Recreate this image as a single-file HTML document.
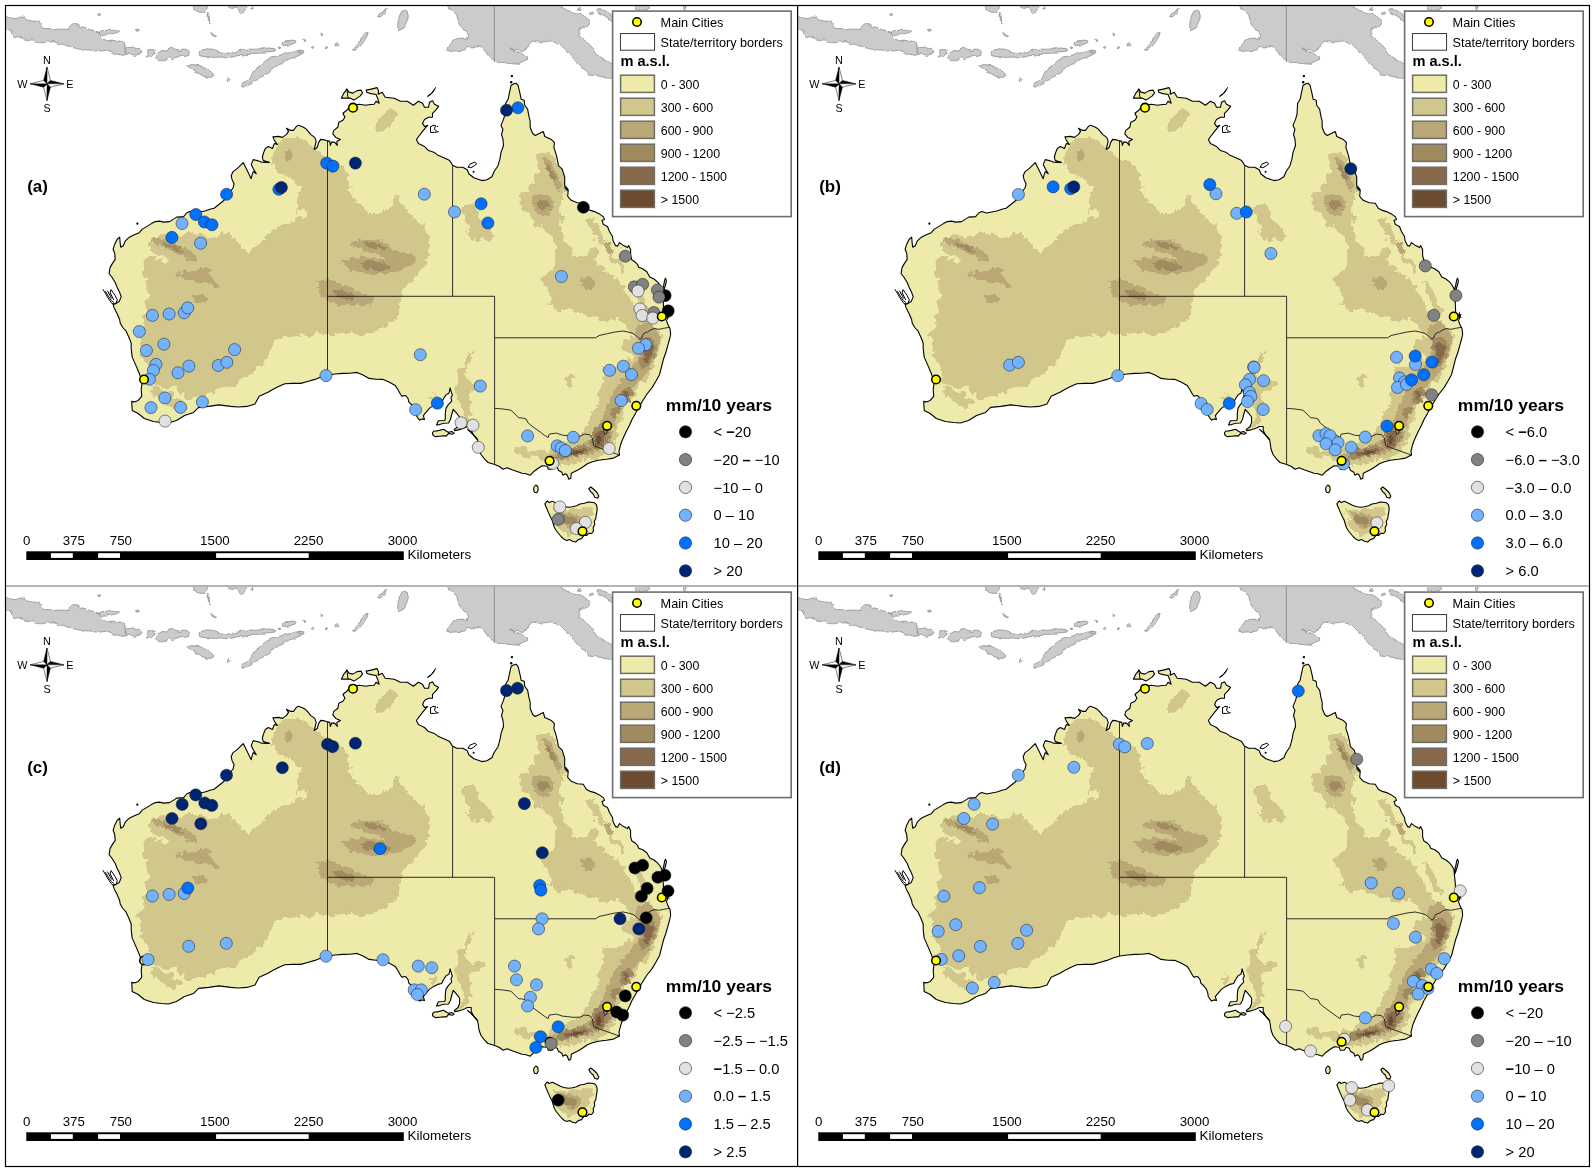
<!DOCTYPE html>
<html><head><meta charset="utf-8"><title>Trends</title>
<style>html,body{margin:0;padding:0;background:#fff}svg{display:block}text{font-family:"Liberation Sans",sans-serif;fill:#000;opacity:0.999}</style></head><body>
<svg width="1594" height="1172" viewBox="0 0 1594 1172">
<defs>
<clipPath id="pc"><rect x="6" y="6" width="791" height="579.5"/></clipPath>
<clipPath id="lc"><path d="M109.1 273.5 L110.1 267.4 L113.1 262.4 L115.2 259.4 L114.7 253.3 L113.1 249.3 L114.7 244.2 L117.2 239.2 L119.7 237.2 L120.2 243.2 L120.7 247.3 L123.2 245.8 L125.2 241.2 L129.3 237.2 L134.3 234.7 L139.3 232.7 L142.3 229.1 L147.4 226.1 L151.4 223.6 L155.4 221.6 L159.5 221.1 L163.5 222.1 L169.5 221.6 L173.6 219.1 L176.6 217.1 L183.6 216.6 L186.7 213 L189.7 211.5 L194.7 213 L199.7 212 L204.8 211 L210.8 209 L214.1 208.3 L223.5 200.8 L229 193.5 L233.1 187.8 L234.1 183.7 L232.1 179.7 L231.1 175.7 L233.1 171.6 L237.1 168.6 L240.2 165.6 L243.2 162.6 L247.2 170.6 L251.2 178.7 L252.2 174.7 L253.2 171.6 L256.3 173.7 L253.2 168.6 L251.2 164.6 L253.2 159.6 L257.3 160.6 L261.3 162.1 L269.4 162.4 L263.3 160.6 L262.3 157.5 L263.3 153.5 L265.3 148.5 L268.4 146.5 L272.4 148.5 L274.4 143.5 L277.4 144.5 L274.4 140.4 L272.9 136.9 L278.4 136.4 L282.5 137.4 L286.5 134.4 L288.5 131.4 L286.5 128.3 L290.5 130.4 L293.5 130.4 L296.5 126.3 L298.6 125.3 L303.6 127.3 L306.6 129.4 L310.6 134.4 L314.7 137.4 L316.2 141.4 L314.2 149.5 L317.2 147.5 L318.7 142.4 L320.7 139.4 L324.7 139.9 L327.8 140.9 L329.8 141.4 L330.3 145.5 L331.8 141.9 L334.8 142.4 L337.3 145.5 L336.8 141.4 L340.4 139.4 L335.8 137.4 L332.8 133.9 L333.8 130.4 L337.8 127.3 L338.8 122.3 L342.9 120.3 L344.9 117.3 L342.9 113.2 L346.9 110.2 L348.9 107.2 L354 105.2 L359 104.2 L366 105.2 L368.1 104.8 L374.1 104.2 L376.1 101.2 L379.1 103.2 L377.6 98.2 L376 94.5 L371 93.6 L367 92.5 L366.1 90.1 L371.1 89.1 L377.1 87.6 L378.6 91 L378.1 94.2 L382.2 92.2 L385.2 97.2 L394.3 98.2 L400.3 101.2 L407.3 101.2 L413.4 105.3 L418.4 101.2 L422.5 103.2 L424.5 107.3 L428.5 107.3 L429.5 102.2 L432.5 100.7 L434.5 104.2 L438.6 106.3 L435.5 110.3 L432.5 113.3 L432.5 117.3 L428.5 117.3 L424.5 119.4 L422.5 123.4 L424.5 126.4 L427.5 125.4 L422.5 131.4 L416.4 139.5 L418.4 143.5 L424.5 146.5 L428.5 150.6 L434.5 152.6 L438.6 155.6 L445.6 158.6 L449.6 160.6 L452.7 165.2 L456.7 167.2 L462.7 167.2 L467.3 169.7 L468.8 173.7 L473.8 177.8 L481.9 180.6 L486.9 179.8 L491.9 176.8 L494 171.7 L498 165.7 L500 158.6 L501 152.6 L503.5 145.5 L503 139.5 L501.5 134.5 L503 129.4 L501 125.4 L503.5 119.4 L505 114.3 L505.6 103.3 L508.1 99.3 L509.6 92.2 L511.1 85.2 L514.1 83.7 L516.1 83.2 L518.1 85.7 L519.7 92.2 L521.2 99.3 L524.2 100.3 L524.7 105.3 L527.7 109.4 L528.7 115.4 L530.2 121.4 L530.2 127.5 L532.7 133.5 L535.3 135.5 L540.3 133 L543.3 131.5 L544.8 136.5 L551.4 139.6 L554.4 142.6 L553.9 147.6 L555.9 153.7 L557.4 159.7 L558.4 165.7 L562.2 169.1 L564.7 177.1 L564.7 185.2 L565.2 188.2 L568.2 190.2 L567.7 196.3 L571.2 200.3 L577.3 202.8 L583.3 203.3 L586.3 208.3 L590.4 210.4 L595.4 211.9 L599.4 213.9 L603.5 216.9 L604.5 219.4 L601.9 220.4 L603.5 224.5 L607.5 226.5 L609.5 231.5 L612.5 236.5 L613 240.6 L615.5 245.6 L617.6 246.1 L619.6 242.6 L623.6 245.6 L627.6 247.6 L628.6 245.6 L630.6 249.6 L630.6 255.7 L631.7 259.7 L634.7 261.7 L637.7 264.7 L638.7 267.3 L642.7 268.8 L646.8 271.8 L649.8 277 L654 279 L657.7 282.2 L660 285 L662 288.5 L662.4 293.5 L663.3 302 L663.6 311.6 L665 316 L666.2 319.9 L668.1 325.1 L670 328.5 L670.7 334 L669.6 339 L668.1 344.3 L666 352 L663.4 359.3 L661.5 367 L659.6 374.4 L656 381 L652.1 387.6 L647 394 L642.7 400.8 L639 407 L635.2 413.9 L632 419.5 L629.5 425.2 L626.5 431 L623.9 436.5 L621.5 442 L620.5 445.1 L619 451.1 L619.5 455.1 L613.5 458.1 L606.4 459.2 L598.4 460.2 L592.4 461.7 L587.4 463.7 L582.4 467.2 L578.3 469.7 L574.3 471.7 L571.3 473.2 L570.8 478.2 L568.8 479.2 L567.3 475.2 L565.3 473.7 L562.8 475.2 L561.8 472.2 L558.3 470.2 L557.3 467.2 L554.2 466.2 L552.2 469.2 L548.2 469.2 L547.2 466.2 L542.2 465.7 L538.2 468.2 L534.2 471.2 L530.2 475.2 L526.1 473.7 L522.1 473.2 L512.1 469.7 L507.1 467.7 L503.1 469.2 L499 466.2 L494 464.2 L488 462.5 L484.6 459.1 L481 454.5 L479 449 L478.2 443 L477.5 439.7 L473.8 435.3 L471.2 430.6 L471.2 426.5 L467.4 426.5 L464.9 427.7 L462.4 428.7 L458.6 429.9 L454.8 430.6 L454.2 429.6 L458 426.5 L459.6 422.7 L459.6 417 L456.1 412.6 L453.2 409.4 L451.7 414.5 L450.4 419.5 L448.5 423 L443.5 423.3 L439.7 424.6 L436.5 424.9 L438.4 420.8 L444.7 420.5 L445.3 418.9 L445.3 413.2 L446 408.1 L448.5 404.4 L451.7 401.2 L451 397.4 L452.3 394.9 L451 391.1 L450.1 387.9 L449.1 393 L446 394.9 L443.5 398.7 L441.6 402.5 L437.8 403.4 L433.4 405.6 L429.6 408.1 L425.8 412.6 L423.3 415.7 L424.5 419.5 L422 418.9 L419.5 420.1 L416.3 415.7 L415.7 411.9 L414.4 408.1 L411.9 405 L408.7 401.8 L408.1 398.7 L405.6 395.5 L401.8 396.1 L400.5 394.3 L398 389.8 L395.2 385.4 L389 382 L383.1 379.4 L376 379.2 L369.1 378.4 L363 375 L357 372.4 L350 373.2 L343 373.4 L335 374 L327.9 375 L321 377 L314.9 379.4 L307.5 381.5 L300.8 383.4 L292.5 383.4 L284.8 383.8 L278.5 386.5 L272.7 389.5 L268 392.3 L259.1 396.3 L255 403.9 L247 406.4 L238 407 L230.9 406.4 L218.8 404.9 L208.7 406.4 L198.6 407.4 L193.6 412.4 L184.5 415.5 L176.5 420.5 L168.4 423 L161.4 422.5 L153.3 421.5 L144.3 418.5 L138.2 413.5 L132.2 410.4 L131.7 401.4 L134.2 401.9 L138.2 400.4 L141.7 396.3 L141.2 389.3 L142.2 382.2 L139.2 373.2 L136.2 366.1 L132.2 357.1 L131.2 349 L131.2 343.3 L128.8 337 L126.1 331.2 L122.8 327.5 L120.2 323 L119.7 319.8 L117.2 313.7 L114.1 307.7 L113.1 304.7 L119.2 301.6 L121.2 296.6 L119.7 292.6 L117.2 287.5 L115.2 282.5 L112.1 277.5ZM341.4 98.1 L343.9 93.1 L346.9 89.1 L348.9 92.1 L352.9 93.1 L357 90.6 L361 90.1 L362.5 93.1 L360 96.1 L357 98.1 L353.9 100.1 L349.9 98.1 L345.9 98.1ZM432.4 432.8 L434 431.2 L438.4 430.6 L443.5 429.3 L446.6 431.2 L448.5 432.4 L451.7 431.5 L454.2 433.1 L452.3 434.3 L448.5 433.4 L446.6 435.9 L443.5 435.9 L439.7 436.2 L435.2 436.6 L432.7 434.7ZM534 487 L535.8 485 L537.8 486.5 L538.2 490 L536.8 492.8 L534.4 492.2 L533.6 489.5ZM588.8 488.6 L590.8 487 L594 489.5 L597 492.5 L598.8 496 L597.6 498.2 L594.6 497.2 L593.2 494 L590.6 491.6ZM665.6 278.2 L666.4 281 L665.2 286 L663.6 291 L662.6 293.4 L662.8 289 L664 284 L664.6 280ZM544.8 503.8 L547.3 500.8 L549 502.5 L552.4 501.3 L556 503 L560.4 505.3 L564 506.5 L568.5 507.3 L572.5 506.8 L576.6 505.8 L580 504 L584.6 503.3 L588 502 L591.7 502.3 L594.5 502.8 L596.2 504.3 L597 507 L597.2 509.4 L596.2 515.4 L595.8 518.5 L594.2 521.4 L594.8 524.5 L593.2 527.5 L593.5 531 L591.7 533.5 L589 533.2 L586.6 535.5 L584 535.2 L581.6 538.6 L578.5 539.5 L575.5 542.1 L572 541 L569.5 539.6 L567 540.4 L564.5 539.6 L561.5 537 L559.4 534.5 L556.5 531 L554.4 527.5 L553 523 L551.9 519.4 L550 516 L548.4 512.4 L546.5 508Z"/></clipPath>
<filter id="rg" x="0" y="0" width="100%" height="100%" filterUnits="objectBoundingBox" color-interpolation-filters="sRGB"><feTurbulence type="fractalNoise" baseFrequency="0.13" numOctaves="3" seed="7" result="n"/><feDisplacementMap in="SourceGraphic" in2="n" scale="11" xChannelSelector="R" yChannelSelector="G"/><feComponentTransfer><feFuncA type="discrete" tableValues="0 1"/></feComponentTransfer></filter>
<filter id="rg2" x="0" y="0" width="100%" height="100%" color-interpolation-filters="sRGB"><feTurbulence type="fractalNoise" baseFrequency="0.22" numOctaves="3" seed="3" result="n"/><feDisplacementMap in="SourceGraphic" in2="n" scale="7" xChannelSelector="R" yChannelSelector="G"/><feComponentTransfer><feFuncA type="discrete" tableValues="0 1"/></feComponentTransfer></filter>
<filter id="wb" x="0" y="0" width="100%" height="100%" color-interpolation-filters="sRGB"><feTurbulence type="fractalNoise" baseFrequency="0.16" numOctaves="2" seed="11" result="n"/><feDisplacementMap in="SourceGraphic" in2="n" scale="3.2" xChannelSelector="R" yChannelSelector="G"/></filter>
<g id="isl" fill="#cbcbcb" stroke="#767676" stroke-width="0.6" stroke-linejoin="round" filter="url(#wb)"><rect x="0" y="0" width="700" height="100" fill="none" stroke="none"/>
<path d="M4 16 L6.5 16.3 L11 18 L16.3 18.6 L20 17 L23.8 17.2 L27 20 L31.4 21 L35 21 L38.9 21.9 L41 26 L42.6 28.5 L48 28.5 L53.9 29.5 L61 29 L69 29.5 L71 25 L73.7 23.4 L77 24 L80.3 26.6 L85 27.5 L89.7 29.5 L94 30.5 L99.1 32.3 L99.5 34 L101 36.1 L103 38.5 L106.6 40.8 L111 40 L116 40.8 L120 41 L124.5 42.6 L125 48 L125.5 54.9 L122 55.5 L117.9 54.3 L112 52.5 L106.6 50.2 L101 51 L95.3 51.1 L90 50 L84.1 49.8 L77 48.5 L70.9 47.3 L65 45 L59.6 43.6 L54 42 L48.3 41.7 L42 42.8 L37 42.6 L30 40 L23.8 38.9 L19 37 L14.4 37 L12.5 34 L12.5 31.4 L9 30.5 L6.5 29.5 L4 29.5Z"/>
<path d="M99.5 31.8 L102 30.6 L108 30.2 L114 30.2 L119.6 31 L117 32.8 L112 33.8 L107 35 L102 35.2 L99.6 34Z"/>
<path d="M125.8 47.8 L129 47.5 L133 47 L136 48 L139.5 49.5 L142.2 51.5 L140 54 L137 54.5 L135 56.8 L132.5 55 L129 53 L127 54.8 L125.8 52Z"/>
<path d="M148 50 L151.5 49.2 L155.4 50.4 L154.6 54 L152 57 L149 57.6 L146.4 57 L147.6 53.5Z"/>
<path d="M156.8 54 L159 51.5 L163 50.5 L167 51 L169 48 L172 47.4 L176 49.5 L180 50.5 L183 49 L187 49.5 L189.4 51.5 L188.6 55.5 L185 56.5 L181 55.5 L177 57.2 L172 58.5 L169 56.5 L166 59.5 L162 61 L158.5 60.5 L156.6 57.5Z"/>
<path d="M199 53 L202 50 L207 48.8 L213 49.2 L218 51 L223 52.5 L228 53 L233 52 L238 51 L244 49.5 L250 49 L256 49.2 L262 48.5 L268 48 L274 48.5 L276 50 L272 51.5 L266 52 L260 53 L254 53.5 L248 54.5 L243 56 L238 55.5 L233 57 L227 57.8 L221 57 L215 57.5 L209 57 L203 56.5 L199.5 55.5Z"/>
<path d="M187.8 66.5 L191 64.6 L196 64.8 L201 66 L205 68 L209 70.5 L212.5 73 L213.8 75.8 L211 77.4 L206 77 L202 75.5 L198 72.5 L194 70 L190 69Z"/>
<path d="M241.5 85.5 L244 82.5 L248 80 L251 76.5 L254 72 L257 68 L261 64.5 L265 61.5 L270 58.5 L276 56 L282 54.5 L288 53 L294 51.5 L300 50.4 L304 50.8 L303.5 53 L299 55.5 L294 57.5 L289 59 L285 61.5 L281 64 L277 65 L273 68 L270 72 L266 75 L261 77 L257 79.5 L253 82.5 L249 85 L245 86.8 L242 87Z"/>
<path d="M282.8 44.2 L285 42 L289 40.6 L293 40 L296.5 40.6 L295 43 L291 44.5 L287 45.4 L284 45.6Z"/>
<path d="M278 47.6 L280 46.8 L281 48 L279 48.8Z"/>
<path d="M226.6 79.6 L228.6 78.6 L229.6 80.4 L227.4 81.6Z"/>
<path d="M98.6 14 L100.2 13.6 L100.6 15 L99 15.4Z"/>
<path d="M135.6 29.6 L138 29 L139.6 30.2 L137.6 31.2 L136 31Z"/>
<path d="M193.2 4 L194 9 L197 11.5 L201 12.5 L204.5 11 L207 8.5 L208 4Z"/>
<path d="M207.6 12 L209 15 L209.6 20 L209 24 L208.2 20 L208.2 15Z"/>
<path d="M227 4 L229 7.5 L232 8.5 L235 7 L238 9 L240.5 12.5 L243 13 L245 9.5 L247.6 7 L247 4Z"/>
<path d="M210.5 32.4 L212.5 33.6 L215 35.6 L216.6 36.4 L214 36.6 L211.6 34.8Z"/>
<path d="M251.6 7 L252.6 6.4 L253 8 L252 8.4Z"/>
<path d="M353.4 49.6 L356 46.5 L358.5 44 L360 40 L362.5 36.5 L365.5 34 L368.2 33.4 L367 36.5 L365 39.5 L363 43 L360.5 46 L357.5 48.5 L354.5 50.4Z"/>
<path d="M397.6 28 L398 22 L399.4 16 L401.6 11.6 L404.6 10 L407.4 11.5 L408.4 16 L407 21 L405 25.5 L402 29 L399.4 30.4Z"/>
<path d="M378.4 15.5 L380 13 L382.4 12.4 L384.4 9.6 L386.2 8.2 L385.6 11 L383.6 14 L381 16.6 L379 17Z"/>
<path d="M303.6 40.2 L305.2 39.4 L306 40.8 L304.4 41.6Z"/>
<path d="M311 46.8 L313 46.2 L314 47.6 L312 48.4Z"/>
<path d="M325.4 48 L327 47.4 L327.6 48.8 L326 49.4Z"/>
<path d="M335.6 43.6 L337.4 42.6 L339.4 43.8 L338.4 45.8 L336.2 45.8Z"/>
<path d="M320.6 34.4 L322.4 33.8 L322.8 35 L321 35.4Z"/>
<path d="M298 50.6 L300.4 50 L301.4 52.4 L299 53Z"/>
<path d="M445.6 4 L449 8 L453 11 L456.6 15 L458 20 L460.6 27.1 L464 30 L468.6 35.1 L467 40 L463 38 L457 38.5 L452 42 L448.5 47 L447.6 51.6 L453 51 L459 50.6 L464.6 50.2 L467 46.5 L472 46.8 L477 47 L480.7 46.2 L484 50 L488.7 56.2 L492 59.5 L495.7 62.2 L503 62.6 L510 63.6 L516.8 64.2 L522 62 L526.9 59.2 L526 56 L522.8 53.2 L517 51.5 L510.8 49.2 L518 49.6 L523 51.5 L526.9 48.2 L529 44 L532.9 41.1 L540 42.5 L548.9 41.1 L555 42.5 L561 45.2 L565 49 L569 53.2 L573 58 L577 63.2 L583 69 L584 68.5 L588.9 75 L595 75.6 L602 76.7 L607 78 L612.2 78.3 L622 79 L622 64 L611.8 63.6 L605.3 60.4 L597.1 55.5 L593.8 48.9 L587.3 42.4 L579.2 35.9 L579.2 29.4 L588.9 26.1 L590.6 21.2 L582.4 14.7 L572.6 13 L566 9 L561.2 6.5 L560 4Z"/>
<path d="M634.6 4 L634.6 8.5 L638 10.1 L646 10.1 L649.3 8.6 L649.3 4Z"/>
<path d="M683.6 4 L683.6 9.2 L684.8 9.8 L686 9.2 L686 4Z"/>
<path d="M578 8.6 L580 7.4 L581.6 8.6 L580.6 10.6 L578.6 10.4Z"/>
<path d="M589.6 12 L592 11.4 L593.6 13.4 L591.4 14.6 L589.8 13.8Z"/>
<path d="M597 10 L601 9.4 L606 11 L610 14 L613 18 L613 21 L609 19 L605 16 L600 13.6 L597.4 12Z"/>
</g>
<path id="pngb" d="M494.3 6V62" fill="none" stroke="#777" stroke-width="0.7"/>
<g id="aus">
<path d="M109.1 273.5 L110.1 267.4 L113.1 262.4 L115.2 259.4 L114.7 253.3 L113.1 249.3 L114.7 244.2 L117.2 239.2 L119.7 237.2 L120.2 243.2 L120.7 247.3 L123.2 245.8 L125.2 241.2 L129.3 237.2 L134.3 234.7 L139.3 232.7 L142.3 229.1 L147.4 226.1 L151.4 223.6 L155.4 221.6 L159.5 221.1 L163.5 222.1 L169.5 221.6 L173.6 219.1 L176.6 217.1 L183.6 216.6 L186.7 213 L189.7 211.5 L194.7 213 L199.7 212 L204.8 211 L210.8 209 L214.1 208.3 L223.5 200.8 L229 193.5 L233.1 187.8 L234.1 183.7 L232.1 179.7 L231.1 175.7 L233.1 171.6 L237.1 168.6 L240.2 165.6 L243.2 162.6 L247.2 170.6 L251.2 178.7 L252.2 174.7 L253.2 171.6 L256.3 173.7 L253.2 168.6 L251.2 164.6 L253.2 159.6 L257.3 160.6 L261.3 162.1 L269.4 162.4 L263.3 160.6 L262.3 157.5 L263.3 153.5 L265.3 148.5 L268.4 146.5 L272.4 148.5 L274.4 143.5 L277.4 144.5 L274.4 140.4 L272.9 136.9 L278.4 136.4 L282.5 137.4 L286.5 134.4 L288.5 131.4 L286.5 128.3 L290.5 130.4 L293.5 130.4 L296.5 126.3 L298.6 125.3 L303.6 127.3 L306.6 129.4 L310.6 134.4 L314.7 137.4 L316.2 141.4 L314.2 149.5 L317.2 147.5 L318.7 142.4 L320.7 139.4 L324.7 139.9 L327.8 140.9 L329.8 141.4 L330.3 145.5 L331.8 141.9 L334.8 142.4 L337.3 145.5 L336.8 141.4 L340.4 139.4 L335.8 137.4 L332.8 133.9 L333.8 130.4 L337.8 127.3 L338.8 122.3 L342.9 120.3 L344.9 117.3 L342.9 113.2 L346.9 110.2 L348.9 107.2 L354 105.2 L359 104.2 L366 105.2 L368.1 104.8 L374.1 104.2 L376.1 101.2 L379.1 103.2 L377.6 98.2 L376 94.5 L371 93.6 L367 92.5 L366.1 90.1 L371.1 89.1 L377.1 87.6 L378.6 91 L378.1 94.2 L382.2 92.2 L385.2 97.2 L394.3 98.2 L400.3 101.2 L407.3 101.2 L413.4 105.3 L418.4 101.2 L422.5 103.2 L424.5 107.3 L428.5 107.3 L429.5 102.2 L432.5 100.7 L434.5 104.2 L438.6 106.3 L435.5 110.3 L432.5 113.3 L432.5 117.3 L428.5 117.3 L424.5 119.4 L422.5 123.4 L424.5 126.4 L427.5 125.4 L422.5 131.4 L416.4 139.5 L418.4 143.5 L424.5 146.5 L428.5 150.6 L434.5 152.6 L438.6 155.6 L445.6 158.6 L449.6 160.6 L452.7 165.2 L456.7 167.2 L462.7 167.2 L467.3 169.7 L468.8 173.7 L473.8 177.8 L481.9 180.6 L486.9 179.8 L491.9 176.8 L494 171.7 L498 165.7 L500 158.6 L501 152.6 L503.5 145.5 L503 139.5 L501.5 134.5 L503 129.4 L501 125.4 L503.5 119.4 L505 114.3 L505.6 103.3 L508.1 99.3 L509.6 92.2 L511.1 85.2 L514.1 83.7 L516.1 83.2 L518.1 85.7 L519.7 92.2 L521.2 99.3 L524.2 100.3 L524.7 105.3 L527.7 109.4 L528.7 115.4 L530.2 121.4 L530.2 127.5 L532.7 133.5 L535.3 135.5 L540.3 133 L543.3 131.5 L544.8 136.5 L551.4 139.6 L554.4 142.6 L553.9 147.6 L555.9 153.7 L557.4 159.7 L558.4 165.7 L562.2 169.1 L564.7 177.1 L564.7 185.2 L565.2 188.2 L568.2 190.2 L567.7 196.3 L571.2 200.3 L577.3 202.8 L583.3 203.3 L586.3 208.3 L590.4 210.4 L595.4 211.9 L599.4 213.9 L603.5 216.9 L604.5 219.4 L601.9 220.4 L603.5 224.5 L607.5 226.5 L609.5 231.5 L612.5 236.5 L613 240.6 L615.5 245.6 L617.6 246.1 L619.6 242.6 L623.6 245.6 L627.6 247.6 L628.6 245.6 L630.6 249.6 L630.6 255.7 L631.7 259.7 L634.7 261.7 L637.7 264.7 L638.7 267.3 L642.7 268.8 L646.8 271.8 L649.8 277 L654 279 L657.7 282.2 L660 285 L662 288.5 L662.4 293.5 L663.3 302 L663.6 311.6 L665 316 L666.2 319.9 L668.1 325.1 L670 328.5 L670.7 334 L669.6 339 L668.1 344.3 L666 352 L663.4 359.3 L661.5 367 L659.6 374.4 L656 381 L652.1 387.6 L647 394 L642.7 400.8 L639 407 L635.2 413.9 L632 419.5 L629.5 425.2 L626.5 431 L623.9 436.5 L621.5 442 L620.5 445.1 L619 451.1 L619.5 455.1 L613.5 458.1 L606.4 459.2 L598.4 460.2 L592.4 461.7 L587.4 463.7 L582.4 467.2 L578.3 469.7 L574.3 471.7 L571.3 473.2 L570.8 478.2 L568.8 479.2 L567.3 475.2 L565.3 473.7 L562.8 475.2 L561.8 472.2 L558.3 470.2 L557.3 467.2 L554.2 466.2 L552.2 469.2 L548.2 469.2 L547.2 466.2 L542.2 465.7 L538.2 468.2 L534.2 471.2 L530.2 475.2 L526.1 473.7 L522.1 473.2 L512.1 469.7 L507.1 467.7 L503.1 469.2 L499 466.2 L494 464.2 L488 462.5 L484.6 459.1 L481 454.5 L479 449 L478.2 443 L477.5 439.7 L473.8 435.3 L471.2 430.6 L471.2 426.5 L467.4 426.5 L464.9 427.7 L462.4 428.7 L458.6 429.9 L454.8 430.6 L454.2 429.6 L458 426.5 L459.6 422.7 L459.6 417 L456.1 412.6 L453.2 409.4 L451.7 414.5 L450.4 419.5 L448.5 423 L443.5 423.3 L439.7 424.6 L436.5 424.9 L438.4 420.8 L444.7 420.5 L445.3 418.9 L445.3 413.2 L446 408.1 L448.5 404.4 L451.7 401.2 L451 397.4 L452.3 394.9 L451 391.1 L450.1 387.9 L449.1 393 L446 394.9 L443.5 398.7 L441.6 402.5 L437.8 403.4 L433.4 405.6 L429.6 408.1 L425.8 412.6 L423.3 415.7 L424.5 419.5 L422 418.9 L419.5 420.1 L416.3 415.7 L415.7 411.9 L414.4 408.1 L411.9 405 L408.7 401.8 L408.1 398.7 L405.6 395.5 L401.8 396.1 L400.5 394.3 L398 389.8 L395.2 385.4 L389 382 L383.1 379.4 L376 379.2 L369.1 378.4 L363 375 L357 372.4 L350 373.2 L343 373.4 L335 374 L327.9 375 L321 377 L314.9 379.4 L307.5 381.5 L300.8 383.4 L292.5 383.4 L284.8 383.8 L278.5 386.5 L272.7 389.5 L268 392.3 L259.1 396.3 L255 403.9 L247 406.4 L238 407 L230.9 406.4 L218.8 404.9 L208.7 406.4 L198.6 407.4 L193.6 412.4 L184.5 415.5 L176.5 420.5 L168.4 423 L161.4 422.5 L153.3 421.5 L144.3 418.5 L138.2 413.5 L132.2 410.4 L131.7 401.4 L134.2 401.9 L138.2 400.4 L141.7 396.3 L141.2 389.3 L142.2 382.2 L139.2 373.2 L136.2 366.1 L132.2 357.1 L131.2 349 L131.2 343.3 L128.8 337 L126.1 331.2 L122.8 327.5 L120.2 323 L119.7 319.8 L117.2 313.7 L114.1 307.7 L113.1 304.7 L119.2 301.6 L121.2 296.6 L119.7 292.6 L117.2 287.5 L115.2 282.5 L112.1 277.5ZM341.4 98.1 L343.9 93.1 L346.9 89.1 L348.9 92.1 L352.9 93.1 L357 90.6 L361 90.1 L362.5 93.1 L360 96.1 L357 98.1 L353.9 100.1 L349.9 98.1 L345.9 98.1ZM432.4 432.8 L434 431.2 L438.4 430.6 L443.5 429.3 L446.6 431.2 L448.5 432.4 L451.7 431.5 L454.2 433.1 L452.3 434.3 L448.5 433.4 L446.6 435.9 L443.5 435.9 L439.7 436.2 L435.2 436.6 L432.7 434.7ZM534 487 L535.8 485 L537.8 486.5 L538.2 490 L536.8 492.8 L534.4 492.2 L533.6 489.5ZM588.8 488.6 L590.8 487 L594 489.5 L597 492.5 L598.8 496 L597.6 498.2 L594.6 497.2 L593.2 494 L590.6 491.6ZM665.6 278.2 L666.4 281 L665.2 286 L663.6 291 L662.6 293.4 L662.8 289 L664 284 L664.6 280ZM544.8 503.8 L547.3 500.8 L549 502.5 L552.4 501.3 L556 503 L560.4 505.3 L564 506.5 L568.5 507.3 L572.5 506.8 L576.6 505.8 L580 504 L584.6 503.3 L588 502 L591.7 502.3 L594.5 502.8 L596.2 504.3 L597 507 L597.2 509.4 L596.2 515.4 L595.8 518.5 L594.2 521.4 L594.8 524.5 L593.2 527.5 L593.5 531 L591.7 533.5 L589 533.2 L586.6 535.5 L584 535.2 L581.6 538.6 L578.5 539.5 L575.5 542.1 L572 541 L569.5 539.6 L567 540.4 L564.5 539.6 L561.5 537 L559.4 534.5 L556.5 531 L554.4 527.5 L553 523 L551.9 519.4 L550 516 L548.4 512.4 L546.5 508Z" fill="#eeeaaa"/>
<g clip-path="url(#lc)">
<g filter="url(#rg)"><rect x="90" y="70" width="600" height="490" fill="none"/>
<path d="M149.6 241 L158.4 233.5 L170 236.5 L181.1 236 L190 232 L198.7 233.5 L207 238 L216.3 237.3 L222 232 L228.9 233.5 L234 240 L239 243.6 L244 250 L249 251.1 L255 245 L261.6 241 L268 235 L274.2 231 L281 225 L289.3 223.4 L295 220 L299.4 215.9 L297 208 L296.9 200.8 L299.4 190.7 L296 184 L291.8 178.1 L285 176 L279.2 173.1 L274 168 L271.7 163 L272 155 L274.2 147.9 L279 143 L284.3 139.1 L290 137 L296.9 136.6 L302 138 L306.9 140.3 L310 144 L312 147.9 L316 150 L319.5 152.9 L324 156 L327.1 160 L333 161 L339.7 163 L344 168 L347.2 173.1 L349 184 L352.2 195.7 L357 202 L362.3 208.3 L368 212 L374.9 213.4 L383 212 L390 208.3 L393 202 L395 195.7 L399 199 L402.6 203.3 L407 210 L412.7 215.9 L419 221 L425.2 225.9 L428 233 L430.3 241 L430 249 L427.8 256.1 L424 264 L420.2 271.2 L415 277 L410.1 281.3 L406 286 L402.6 291.4 L401 299 L400.1 306.5 L398 313 L395 319.1 L388 325 L379.9 329.1 L371 333 L362.3 335.4 L353 334 L344.7 331.7 L336 333.5 L327.1 334.2 L314.5 332.9 L307 335.5 L299.4 336.7 L292 335.5 L284.3 335.4 L279 338 L274.2 341.7 L271 348 L269.2 354.3 L264 361 L259.1 366.9 L254 371 L249 374.5 L243 379 L236.6 383.4 L228.5 387.5 L222 390 L216.5 391.5 L208 393 L200.4 395.5 L195 398 L190.4 399.5 L187 396 L184.4 393.5 L180 391 L176.3 389.5 L172 387 L168.3 385.4 L162 387 L156.3 387.5 L152 384 L148.2 381.4 L150.5 375 L152.2 369.4 L148 365 L144.2 361.4 L142 355 L140.2 349.3 L139 342 L138.2 335.3 L141 328 L144.2 321.2 L145.5 313 L146.2 305.1 L147.5 297 L148.2 289.1 L145 280 L141.3 271.2 L142 265 L143.2 259.9 L148 257 L152.6 254.3 L150 247Z" fill="#d1c68c"/>
<path d="M375.1 129.4 L378.1 121.4 L384.2 114.3 L391.2 109.3 L397.3 113.3 L395.3 119.4 L390.2 125.4 L384.2 130.4 L378.1 133.5Z" fill="#d1c68c"/>
<path d="M463 205 L468 202 L473 204 L477 211 L481 218 L486 225 L491 231 L493 237 L489 241 L483 237.5 L478 240 L473 238 L469 231 L466 222 L463 213Z" fill="#d1c68c"/>
<path d="M537.1 154.2 L543 152 L549.2 153.2 L553 156 L556.1 159 L557.5 164 L562 169.5 L564.5 177 L564.5 185 L565 189 L563 199 L559 208 L562 218 L560 228 L564 236 L567 242 L571 246.6 L576 249.6 L573 254.7 L578 259.7 L586 255.7 L590 249.6 L594 247.6 L598 253.7 L594 259.7 L598 264.7 L603 269.8 L609.6 273 L615 277 L619.6 281 L624 288 L627.7 295.1 L632 301 L635.8 307.2 L639 313 L641.8 319.3 L646 324 L652 327 L658 331 L661 337 L659.5 343.8 L658 350 L656.5 355.8 L655 362 L653.5 367.7 L651.5 371 L650.3 374.5 L647 378 L643.5 381.3 L640 385 L636.7 388.2 L635 392 L633.3 396.7 L630.5 399.5 L628.2 401.8 L625.5 408 L623.1 415.5 L621 420 L619.6 424 L617.5 428 L616.2 432.5 L615.5 438 L614.5 442.7 L613 447 L611.1 451.3 L605 454 L599.2 456.4 L590 459 L582.1 461.5 L573 463.5 L565.1 464.9 L556 464.5 L548 463 L541 460.5 L535 458 L528 456.5 L522 455 L516 453 L512 451 L515 448 L520 447 L527 448.5 L535 449 L541 450.5 L548 451.3 L553 450 L558.2 447.9 L564 445 L570.2 442.7 L577 437 L583.8 430.8 L585.5 427 L587.2 424 L589 420 L590.6 415.5 L593 412 L595.8 408.6 L598.5 405 L600.9 401.8 L598.5 398.5 L597.5 395 L599 390 L600.9 384.8 L602 380 L602.6 374.5 L604 370 L606 366 L612.5 365.5 L619.6 364.3 L626 362 L633.3 359.2 L632 355.5 L629.9 352.3 L625 349.5 L621.3 347.2 L622.5 343 L624.8 338.7 L630.5 338.5 L636.7 337 L632 334 L628.2 331.9 L625.5 327.5 L623.1 323.3 L620 319.5 L616.2 316.5 L612 319.5 L607.7 321.6 L602.5 320 L597.5 318.2 L592 316.5 L587.2 314.8 L578.5 312 L570.2 309.7 L564 309 L558.2 308 L553 306.5 L548 304.6 L548.5 301 L549.2 297.1 L550 293 L549.2 289.1 L544 285.5 L539.1 281 L547 274 L555.2 266.9 L556.5 259 L557.2 250.8 L555 243 L552 237 L548 234.5 L543 231 L539.1 226.7 L536 221.5 L533.1 216.6 L528 214 L523 210.5 L520.5 204.5 L518.9 198.5 L522.5 194 L527 190.4 L530 185 L533.1 180.3 L536 175 L539.1 170.3 L538 166 L537.1 162.2Z" fill="#d1c68c"/>
<path d="M587.4 218.6 L595.5 222.6 L603.5 234.7 L605.5 244.8 L599.5 242.8 L593.5 232.7 L587.4 224.6Z" fill="#d1c68c"/>
<path d="M609.6 252.8 L617.6 258.9 L625.7 271 L619.6 271 L611.6 262.9Z" fill="#d1c68c"/>
<path d="M631.7 279 L639.8 289.1 L645.8 303.2 L649.8 315.3 L643.8 311.2 L637.8 299.1 L632.7 289.1Z" fill="#d1c68c"/>
<path d="M468.5 352.2 L473.6 351.1 L471.6 360.2 L468 366 L464.9 369 L466.8 375.3 L468.7 381.6 L473.8 383.5 L480.1 381 L486.4 379.7 L487 384.8 L481.3 387.9 L475 390.5 L470.6 394.3 L469.3 400.6 L470 406.9 L470.6 413.2 L469.3 418.2 L466.2 423.3 L463 427.1 L458.6 429.6 L457.3 427.7 L461.1 422 L463 417 L462.4 410.7 L460.5 404.4 L458 398.7 L456.1 393 L454.8 386.7 L456.7 380.4 L457.3 374.1 L458.6 369 L462 366 L465.5 362.2Z" fill="#d1c68c"/>
<path d="M430 397 L431.5 392 L434 394 L436 399 L434 402 L431 401Z" fill="#d1c68c"/>
<path d="M150 387 L160.4 389.5 L171 393.5 L178.5 398.5 L181.5 405 L176 407.5 L168.4 405.4 L161.5 403 L157 398 L152 393Z" fill="#d1c68c"/>
<path d="M566.5 377 L569 373.5 L572 375.5 L573.5 381 L573 386.5 L570 388 L567.5 384.5Z" fill="#d1c68c"/>
<path d="M553 508 L559 508.5 L565 510.5 L572 510.5 L579 508 L586 506.5 L592 507 L594 512 L592 518 L589 524 L585 529 L579 531 L574 535 L568 536 L563 532 L558.5 526 L556 519 L554 513Z" fill="#d1c68c"/>
</g>
<g filter="url(#rg)"><rect x="90" y="70" width="600" height="490" fill="none"/>
<path d="M299.4 209 L303 207.5 L306.5 210 L307 216 L304.5 220.5 L300.5 220.5 L298.8 215Z" fill="#eeeaaa"/>
<path d="M145.4 256.3 L153.4 258.3 L163.5 261.4 L169.5 263.4 L167.5 259.4 L159.5 255.3 L149.4 253.3Z" fill="#eeeaaa"/>
</g>
<g filter="url(#rg2)"><rect x="90" y="70" width="600" height="490" fill="none"/>
<path d="M150.4 240.2 L157.5 238.2 L165.5 239.2 L173.6 243.2 L181.6 247.3 L189.7 251.3 L197.7 256.3 L196.7 261.4 L189.7 260.4 L181.6 256.3 L173.6 252.3 L165.5 248.3 L157.5 244.2Z" fill="#b9a876"/>
<path d="M172.6 274.5 L183.6 271.4 L193.7 269.4 L203.8 267.4 L211.8 269.4 L208.8 274.5 L213.8 279.5 L219.9 286.5 L211.8 285.5 L203.8 281.5 L197.7 283.5 L189.7 279.5 L181.6 277.5Z" fill="#b9a876"/>
<path d="M191.5 296 L197 294 L204 295.5 L208.5 299 L205 303 L198 303.5 L193 301Z" fill="#b9a876"/>
<path d="M349.7 243.6 L357 240.5 L364.8 239.8 L374 239.5 L382.5 241 L388 245 L392.5 249.8 L400 252 L407.6 253.6 L412 255 L415.2 257.4 L411 261.5 L405.1 263.7 L396 263 L387.5 261.2 L382 257 L377.4 253.6 L368 251.5 L359.8 248.6 L354 246.5Z" fill="#b9a876"/>
<path d="M342.2 261.2 L351 258.5 L359.8 257.4 L370 257.5 L379.9 258.7 L390 261.5 L400.1 263.7 L407 262 L412.7 258.7 L410 264 L405.1 268.7 L396 271.5 L387.5 272.5 L377 273.5 L367.4 273.8 L358 272.5 L349.7 270 L345 266Z" fill="#b9a876"/>
<path d="M317 281.3 L324 279.5 L332.1 280 L340 283 L347.2 286.3 L355 290 L362.3 293.9 L369 296 L374.9 298.9 L373.5 302.5 L369.9 304 L360 305.5 L349.7 305.2 L342 305 L334.6 304 L328 300.5 L322 296.4 L320 292.5 L319.5 288.9Z" fill="#b9a876"/>
<path d="M285 152 L288.5 150 L291.5 152 L292.5 156 L290.5 160 L287 161 L285 157Z" fill="#b9a876"/>
<path d="M541 157 L546 156 L550.5 159.5 L554 167 L557.5 175.5 L560 182 L561.5 188 L558.5 191 L555 186 L551 178 L548 170 L544 163Z" fill="#b9a876"/>
<path d="M533.5 196 L540 193.5 L547 195 L552 200 L553 207.5 L549.5 214 L543 216 L536.5 213 L532 207 L531.5 201Z" fill="#b9a876"/>
<path d="M394 251 L406 253 L414 256.5 L416 260 L411 266 L400 268 L394 264 L397 259Z" fill="#b9a876"/>
<path d="M581 279 L587 276.5 L593 278.5 L596 284 L592 289.5 L585.5 289.5 L581.5 285Z" fill="#b9a876"/>
<path d="M604 240 L610 243 L613.5 251 L611 256 L606 251 L603.5 245Z" fill="#b9a876"/>
<path d="M636 325 L643 322.5 L650 322 L656 328 L660 335 L659.5 343 L658 350 L655.5 358 L652 365 L648.5 370.5 L645 375 L640.5 380 L636 385 L632 390 L628 395 L625 401.5 L622 408 L619 414 L616 420 L614 426 L612 432 L610 438.5 L608 445 L603 449 L598 452 L591.5 454 L585 455 L577.5 456.5 L570 458 L563 459.5 L556 460 L551.5 458.5 L548 456 L554 453.5 L560 451 L567.5 449 L575 447 L581.5 444 L588 440 L592 435 L596 430 L599 424 L602 418 L605 411.5 L608 405 L611 398.5 L614 392 L618 386 L622 380 L626 375 L630 370 L634 364 L638 358 L639.5 351.5 L640 345 L638.5 339 L636.5 332Z" fill="#b9a876"/>
<path d="M558 511 L565 512.5 L572 513 L578 515 L582 519 L580 524 L575 528 L569 529 L563.5 525 L560 519Z" fill="#b9a876"/>
</g>
<g filter="url(#rg2)"><rect x="90" y="70" width="600" height="490" fill="none"/>
<path d="M333 289 L341 290 L350 293.5 L357 297 L352 300 L343 299 L336 296Z" fill="#a08a60"/>
<path d="M362 243.5 L372 242.5 L381 244.5 L386 248.5 L378 249 L369 247.5Z" fill="#a08a60"/>
<path d="M358 262 L370 261 L382 263 L392 266.5 L384 269.5 L372 269.5 L362 267Z" fill="#a08a60"/>
<path d="M162 241.5 L170 243.5 L178 247.5 L184 251.5 L178 252 L170 248.5 L163 245Z" fill="#a08a60"/>
<path d="M640 338 L647 336 L653 339 L656.5 346 L655 354 L651.5 361 L647 367 L642 369 L639.5 362 L641 354 L640 346Z" fill="#a08a60"/>
<path d="M620 392 L626 388 L631.5 388.5 L632.5 395 L629 401 L623.5 405 L619.5 400Z" fill="#a08a60"/>
<path d="M610 408 L616 405 L620 409 L617.5 416 L612 419 L608.5 414Z" fill="#a08a60"/>
<path d="M592 430 L598 425 L605 423 L609 428 L609.5 436 L607 443 L603 448.5 L597 450 L591.5 448.5 L590 442 L591 435Z" fill="#a08a60"/>
<path d="M556 454 L563 450.5 L570 448.5 L578 446 L586 446 L592 449 L588 453 L581 455.5 L573 457 L565 458.5 L558.5 458.5Z" fill="#a08a60"/>
<path d="M546 164 L550 166 L553 172 L555.5 179 L554 182 L551 178 L548 171Z" fill="#a08a60"/>
<path d="M538 201 L543 199.5 L548 201.5 L549.5 206 L546 210 L541 210.5 L538 206Z" fill="#a08a60"/>
<path d="M562 514.5 L569 515.5 L575 518 L577 522.5 L572 526 L566 524.5 L562.5 519.5Z" fill="#a08a60"/>
</g>
<g filter="url(#rg2)"><rect x="90" y="70" width="600" height="490" fill="none"/>
<path d="M643 343 L649 341.5 L653 347 L652 355 L648 361.5 L644 362 L643.5 353Z" fill="#86694a"/>
<path d="M595 434 L599 431 L603 432 L605 437 L604 443 L600 447 L595.5 446 L593.5 441Z" fill="#86694a"/>
<path d="M563 454 L571 451 L580 449 L587 449.5 L583 453 L575 455 L567 456.5Z" fill="#86694a"/>
<path d="M623 393.5 L628 391 L630 396 L626 400.5 L622.5 398Z" fill="#86694a"/>
</g>
<g filter="url(#rg2)"><rect x="90" y="70" width="600" height="490" fill="none"/>
<path d="M597 437 L600 435 L602 438 L601 442 L598 443.5 L596.5 440.5Z" fill="#6d4b30"/>
<path d="M570 453 L577 450.8 L582 451.2 L578 453.6 L572 455Z" fill="#6d4b30"/>
</g>
</g>
<g fill="none" stroke="#1a1a1a" stroke-width="0.9" stroke-linejoin="round">
<path d="M327.5 140.8 L327.5 375"/>
<path d="M327.5 296.3 L494.6 296.3"/>
<path d="M452.6 165 L452.6 296.3"/>
<path d="M494.6 296.3 L494.6 463.8"/>
<path d="M494.6 337.8 L595.6 337.8 L599 335.5 L607.7 333.6 L615 332 L623.1 331 L628 332 L633.3 333.6 L637 336.5 L640.1 339.2 L642 337 L643.5 333.6 L647.6 332 L650.3 330.2 L654 328.6 L659.1 329.3 L663.6 328.3 L669.5 327.3"/>
<path d="M494.6 408.3 L503 409 L510.9 410.2 L515 414 L518.5 417.7 L522.5 418 L526.1 419 L528.2 423 L533.2 427 L540.2 432 L544.2 435.1 L548.2 437.6 L549.2 434.1 L556.3 433.1 L562.3 435.1 L567.3 435.6 L574 436.4 L580.3 436.1 L584.4 434.1 L589.4 434.6 L592.4 438.1 L593.4 444.1 L594.4 446.1 L619.5 455.1"/>
<path d="M604.2 427.5 L606.5 426.6 L607.4 429.6 L606.8 433.2 L604.8 434.4 L603.6 431 L604.2 427.5"/>
</g>
<path d="M109.1 273.5 L110.1 267.4 L113.1 262.4 L115.2 259.4 L114.7 253.3 L113.1 249.3 L114.7 244.2 L117.2 239.2 L119.7 237.2 L120.2 243.2 L120.7 247.3 L123.2 245.8 L125.2 241.2 L129.3 237.2 L134.3 234.7 L139.3 232.7 L142.3 229.1 L147.4 226.1 L151.4 223.6 L155.4 221.6 L159.5 221.1 L163.5 222.1 L169.5 221.6 L173.6 219.1 L176.6 217.1 L183.6 216.6 L186.7 213 L189.7 211.5 L194.7 213 L199.7 212 L204.8 211 L210.8 209 L214.1 208.3 L223.5 200.8 L229 193.5 L233.1 187.8 L234.1 183.7 L232.1 179.7 L231.1 175.7 L233.1 171.6 L237.1 168.6 L240.2 165.6 L243.2 162.6 L247.2 170.6 L251.2 178.7 L252.2 174.7 L253.2 171.6 L256.3 173.7 L253.2 168.6 L251.2 164.6 L253.2 159.6 L257.3 160.6 L261.3 162.1 L269.4 162.4 L263.3 160.6 L262.3 157.5 L263.3 153.5 L265.3 148.5 L268.4 146.5 L272.4 148.5 L274.4 143.5 L277.4 144.5 L274.4 140.4 L272.9 136.9 L278.4 136.4 L282.5 137.4 L286.5 134.4 L288.5 131.4 L286.5 128.3 L290.5 130.4 L293.5 130.4 L296.5 126.3 L298.6 125.3 L303.6 127.3 L306.6 129.4 L310.6 134.4 L314.7 137.4 L316.2 141.4 L314.2 149.5 L317.2 147.5 L318.7 142.4 L320.7 139.4 L324.7 139.9 L327.8 140.9 L329.8 141.4 L330.3 145.5 L331.8 141.9 L334.8 142.4 L337.3 145.5 L336.8 141.4 L340.4 139.4 L335.8 137.4 L332.8 133.9 L333.8 130.4 L337.8 127.3 L338.8 122.3 L342.9 120.3 L344.9 117.3 L342.9 113.2 L346.9 110.2 L348.9 107.2 L354 105.2 L359 104.2 L366 105.2 L368.1 104.8 L374.1 104.2 L376.1 101.2 L379.1 103.2 L377.6 98.2 L376 94.5 L371 93.6 L367 92.5 L366.1 90.1 L371.1 89.1 L377.1 87.6 L378.6 91 L378.1 94.2 L382.2 92.2 L385.2 97.2 L394.3 98.2 L400.3 101.2 L407.3 101.2 L413.4 105.3 L418.4 101.2 L422.5 103.2 L424.5 107.3 L428.5 107.3 L429.5 102.2 L432.5 100.7 L434.5 104.2 L438.6 106.3 L435.5 110.3 L432.5 113.3 L432.5 117.3 L428.5 117.3 L424.5 119.4 L422.5 123.4 L424.5 126.4 L427.5 125.4 L422.5 131.4 L416.4 139.5 L418.4 143.5 L424.5 146.5 L428.5 150.6 L434.5 152.6 L438.6 155.6 L445.6 158.6 L449.6 160.6 L452.7 165.2 L456.7 167.2 L462.7 167.2 L467.3 169.7 L468.8 173.7 L473.8 177.8 L481.9 180.6 L486.9 179.8 L491.9 176.8 L494 171.7 L498 165.7 L500 158.6 L501 152.6 L503.5 145.5 L503 139.5 L501.5 134.5 L503 129.4 L501 125.4 L503.5 119.4 L505 114.3 L505.6 103.3 L508.1 99.3 L509.6 92.2 L511.1 85.2 L514.1 83.7 L516.1 83.2 L518.1 85.7 L519.7 92.2 L521.2 99.3 L524.2 100.3 L524.7 105.3 L527.7 109.4 L528.7 115.4 L530.2 121.4 L530.2 127.5 L532.7 133.5 L535.3 135.5 L540.3 133 L543.3 131.5 L544.8 136.5 L551.4 139.6 L554.4 142.6 L553.9 147.6 L555.9 153.7 L557.4 159.7 L558.4 165.7 L562.2 169.1 L564.7 177.1 L564.7 185.2 L565.2 188.2 L568.2 190.2 L567.7 196.3 L571.2 200.3 L577.3 202.8 L583.3 203.3 L586.3 208.3 L590.4 210.4 L595.4 211.9 L599.4 213.9 L603.5 216.9 L604.5 219.4 L601.9 220.4 L603.5 224.5 L607.5 226.5 L609.5 231.5 L612.5 236.5 L613 240.6 L615.5 245.6 L617.6 246.1 L619.6 242.6 L623.6 245.6 L627.6 247.6 L628.6 245.6 L630.6 249.6 L630.6 255.7 L631.7 259.7 L634.7 261.7 L637.7 264.7 L638.7 267.3 L642.7 268.8 L646.8 271.8 L649.8 277 L654 279 L657.7 282.2 L660 285 L662 288.5 L662.4 293.5 L663.3 302 L663.6 311.6 L665 316 L666.2 319.9 L668.1 325.1 L670 328.5 L670.7 334 L669.6 339 L668.1 344.3 L666 352 L663.4 359.3 L661.5 367 L659.6 374.4 L656 381 L652.1 387.6 L647 394 L642.7 400.8 L639 407 L635.2 413.9 L632 419.5 L629.5 425.2 L626.5 431 L623.9 436.5 L621.5 442 L620.5 445.1 L619 451.1 L619.5 455.1 L613.5 458.1 L606.4 459.2 L598.4 460.2 L592.4 461.7 L587.4 463.7 L582.4 467.2 L578.3 469.7 L574.3 471.7 L571.3 473.2 L570.8 478.2 L568.8 479.2 L567.3 475.2 L565.3 473.7 L562.8 475.2 L561.8 472.2 L558.3 470.2 L557.3 467.2 L554.2 466.2 L552.2 469.2 L548.2 469.2 L547.2 466.2 L542.2 465.7 L538.2 468.2 L534.2 471.2 L530.2 475.2 L526.1 473.7 L522.1 473.2 L512.1 469.7 L507.1 467.7 L503.1 469.2 L499 466.2 L494 464.2 L488 462.5 L484.6 459.1 L481 454.5 L479 449 L478.2 443 L477.5 439.7 L473.8 435.3 L471.2 430.6 L471.2 426.5 L467.4 426.5 L464.9 427.7 L462.4 428.7 L458.6 429.9 L454.8 430.6 L454.2 429.6 L458 426.5 L459.6 422.7 L459.6 417 L456.1 412.6 L453.2 409.4 L451.7 414.5 L450.4 419.5 L448.5 423 L443.5 423.3 L439.7 424.6 L436.5 424.9 L438.4 420.8 L444.7 420.5 L445.3 418.9 L445.3 413.2 L446 408.1 L448.5 404.4 L451.7 401.2 L451 397.4 L452.3 394.9 L451 391.1 L450.1 387.9 L449.1 393 L446 394.9 L443.5 398.7 L441.6 402.5 L437.8 403.4 L433.4 405.6 L429.6 408.1 L425.8 412.6 L423.3 415.7 L424.5 419.5 L422 418.9 L419.5 420.1 L416.3 415.7 L415.7 411.9 L414.4 408.1 L411.9 405 L408.7 401.8 L408.1 398.7 L405.6 395.5 L401.8 396.1 L400.5 394.3 L398 389.8 L395.2 385.4 L389 382 L383.1 379.4 L376 379.2 L369.1 378.4 L363 375 L357 372.4 L350 373.2 L343 373.4 L335 374 L327.9 375 L321 377 L314.9 379.4 L307.5 381.5 L300.8 383.4 L292.5 383.4 L284.8 383.8 L278.5 386.5 L272.7 389.5 L268 392.3 L259.1 396.3 L255 403.9 L247 406.4 L238 407 L230.9 406.4 L218.8 404.9 L208.7 406.4 L198.6 407.4 L193.6 412.4 L184.5 415.5 L176.5 420.5 L168.4 423 L161.4 422.5 L153.3 421.5 L144.3 418.5 L138.2 413.5 L132.2 410.4 L131.7 401.4 L134.2 401.9 L138.2 400.4 L141.7 396.3 L141.2 389.3 L142.2 382.2 L139.2 373.2 L136.2 366.1 L132.2 357.1 L131.2 349 L131.2 343.3 L128.8 337 L126.1 331.2 L122.8 327.5 L120.2 323 L119.7 319.8 L117.2 313.7 L114.1 307.7 L113.1 304.7 L119.2 301.6 L121.2 296.6 L119.7 292.6 L117.2 287.5 L115.2 282.5 L112.1 277.5ZM341.4 98.1 L343.9 93.1 L346.9 89.1 L348.9 92.1 L352.9 93.1 L357 90.6 L361 90.1 L362.5 93.1 L360 96.1 L357 98.1 L353.9 100.1 L349.9 98.1 L345.9 98.1ZM432.4 432.8 L434 431.2 L438.4 430.6 L443.5 429.3 L446.6 431.2 L448.5 432.4 L451.7 431.5 L454.2 433.1 L452.3 434.3 L448.5 433.4 L446.6 435.9 L443.5 435.9 L439.7 436.2 L435.2 436.6 L432.7 434.7ZM534 487 L535.8 485 L537.8 486.5 L538.2 490 L536.8 492.8 L534.4 492.2 L533.6 489.5ZM588.8 488.6 L590.8 487 L594 489.5 L597 492.5 L598.8 496 L597.6 498.2 L594.6 497.2 L593.2 494 L590.6 491.6ZM665.6 278.2 L666.4 281 L665.2 286 L663.6 291 L662.6 293.4 L662.8 289 L664 284 L664.6 280ZM544.8 503.8 L547.3 500.8 L549 502.5 L552.4 501.3 L556 503 L560.4 505.3 L564 506.5 L568.5 507.3 L572.5 506.8 L576.6 505.8 L580 504 L584.6 503.3 L588 502 L591.7 502.3 L594.5 502.8 L596.2 504.3 L597 507 L597.2 509.4 L596.2 515.4 L595.8 518.5 L594.2 521.4 L594.8 524.5 L593.2 527.5 L593.5 531 L591.7 533.5 L589 533.2 L586.6 535.5 L584 535.2 L581.6 538.6 L578.5 539.5 L575.5 542.1 L572 541 L569.5 539.6 L567 540.4 L564.5 539.6 L561.5 537 L559.4 534.5 L556.5 531 L554.4 527.5 L553 523 L551.9 519.4 L550 516 L548.4 512.4 L546.5 508Z" fill="none" stroke="#000" stroke-width="1.1" stroke-linejoin="round"/>
<path d="M430.5 126.9 L433 125.4 L435.5 125.4 L434.5 129.4 L437.6 131.9 L434.5 132.4 L430.5 132.4 L430.5 126.9" fill="none" stroke="#000" stroke-width="1" stroke-linejoin="round" stroke-linecap="round"/>
<path d="M468.3 167.2 L469.8 164.2 L474.8 162.2 L476.8 163.7 L473.8 166.2 L470.8 167.7 L468.3 167.2" fill="none" stroke="#000" stroke-width="1" stroke-linejoin="round" stroke-linecap="round"/>
<path d="M427.5 96.2 L431.5 93.2 L434.5 89.1 L435.5 87.6" fill="none" stroke="#000" stroke-width="1" stroke-linejoin="round" stroke-linecap="round"/>
<path d="M428 96.4 L431.8 93.6 L434.8 89.4" fill="none" stroke="#000" stroke-width="1" stroke-linejoin="round" stroke-linecap="round"/>
<path d="M346.9 89.1 L347.5 94 L348 97.8" fill="none" stroke="#000" stroke-width="1" stroke-linejoin="round" stroke-linecap="round"/>
<path d="M103.1 289.6 L106.1 294.6 L109.1 299.6 L112.1 303.7 L116.2 303.7 L117.2 299.6 L115.2 295.6 L113.1 292.6 L111.1 289.6 L110.1 292.6 L112.1 296.6 L113.6 299.6" fill="none" stroke="#000" stroke-width="1" stroke-linejoin="round" stroke-linecap="round"/>
<path d="M105.6 291.6 L108.6 296.6 L111.4 300.6 L113.6 302.2" fill="none" stroke="#000" stroke-width="1" stroke-linejoin="round" stroke-linecap="round"/>
<path d="M107.6 291 L109.8 295 L111.6 298.2" fill="none" stroke="#000" stroke-width="1" stroke-linejoin="round" stroke-linecap="round"/>
<path d="M467.4 429.6 L470.5 432.5 L473.8 435.6 L477 439.4" fill="none" stroke="#000" stroke-width="1" stroke-linejoin="round" stroke-linecap="round"/>
<path d="M468 429.4 L471 432.2 L474.4 435.4 L477.4 439" fill="none" stroke="#000" stroke-width="1" stroke-linejoin="round" stroke-linecap="round"/>
<path d="M565.8 186.6 L567.6 188 L568 190.8 L566.6 190.2 L565.8 186.6" fill="none" stroke="#000" stroke-width="1" stroke-linejoin="round" stroke-linecap="round"/>
<path d="M666.6 313.2 L667.6 311.6 L668 314 L669.6 314.6 L668.4 316 L669.8 317.6 L668.2 317.8 L667.8 320.4 L666.8 318 L666.2 316Z" fill="#000"/>
<circle cx="511.9" cy="76.1" r="1.2" fill="#000"/>
<circle cx="511.2" cy="82.3" r="1.2" fill="#000"/>
<circle cx="473.6" cy="171.8" r="1.0" fill="#000"/>
<circle cx="137.4" cy="223.7" r="1.1" fill="#000"/>
<circle cx="427.6" cy="125.6" r="0.7" fill="#000"/>
<circle cx="437.4" cy="126.4" r="0.7" fill="#000"/>
<circle cx="438.2" cy="131.6" r="0.6" fill="#000"/>
</g>
<g id="cmp">
<path d="M47 67.0L43.6 80.39999999999999L47 83.8Z" fill="#000" stroke="#000" stroke-width="0.5" stroke-linejoin="miter"/>
<path d="M47 67.0L50.4 80.39999999999999L47 83.8Z" fill="#fff" stroke="#000" stroke-width="0.5" stroke-linejoin="miter"/>
<path d="M63.8 83.8L50.4 80.39999999999999L47 83.8Z" fill="#000" stroke="#000" stroke-width="0.5" stroke-linejoin="miter"/>
<path d="M63.8 83.8L50.4 87.2L47 83.8Z" fill="#fff" stroke="#000" stroke-width="0.5" stroke-linejoin="miter"/>
<path d="M47 100.6L50.4 87.2L47 83.8Z" fill="#000" stroke="#000" stroke-width="0.5" stroke-linejoin="miter"/>
<path d="M47 100.6L43.6 87.2L47 83.8Z" fill="#fff" stroke="#000" stroke-width="0.5" stroke-linejoin="miter"/>
<path d="M30.2 83.8L43.6 87.2L47 83.8Z" fill="#000" stroke="#000" stroke-width="0.5" stroke-linejoin="miter"/>
<path d="M30.2 83.8L43.6 80.39999999999999L47 83.8Z" fill="#fff" stroke="#000" stroke-width="0.5" stroke-linejoin="miter"/>
<text x="46.8" y="64.2" font-size="10.8" text-anchor="middle">N</text>
<text x="47" y="111.9" font-size="10.8" text-anchor="middle">S</text>
<text x="22.4" y="87.7" font-size="10.8" text-anchor="middle">W</text>
<text x="69.9" y="87.7" font-size="10.8" text-anchor="middle">E</text>
</g>
<g id="sb">
<rect x="26.3" y="551.3" width="377.5" height="8.7" fill="#000"/>
<rect x="50.9" y="553.2" width="21.9" height="4.7" fill="#fff"/>
<rect x="98.1" y="553.2" width="21.9" height="4.7" fill="#fff"/>
<rect x="216.1" y="553.2" width="92.6" height="4.7" fill="#fff"/>
<text x="26.7" y="545.4" font-size="13.3" text-anchor="middle">0</text>
<text x="73.8" y="545.4" font-size="13.3" text-anchor="middle">375</text>
<text x="120.9" y="545.4" font-size="13.3" text-anchor="middle">750</text>
<text x="214.9" y="545.4" font-size="13.3" text-anchor="middle">1500</text>
<text x="308.5" y="545.4" font-size="13.3" text-anchor="middle">2250</text>
<text x="402.5" y="545.4" font-size="13.3" text-anchor="middle">3000</text>
<text x="407.6" y="558.5" font-size="13.5">Kilometers</text>
</g>
<g id="lg">
<rect x="612.6" y="11.1" width="178.6" height="205.5" fill="#fff" stroke="#6e6e6e" stroke-width="1.6"/>
<circle cx="637" cy="22" r="4.25" fill="#ffff00" stroke="#000" stroke-width="1.55"/>
<text x="660.6" y="26.5" font-size="12.7">Main Cities</text>
<rect x="620.4" y="33.6" width="34.2" height="16.6" fill="#fff" stroke="#222" stroke-width="0.9"/>
<text x="660.6" y="46.9" font-size="12.65">State/territory borders</text>
<text x="620.4" y="66.1" font-size="14.6" font-weight="bold">m a.s.l.</text>
<rect x="620.6" y="75.2" width="33.8" height="17.2" fill="#eeeaaa" stroke="#6f6e66" stroke-width="1.5"/>
<text x="660.8" y="89.2" font-size="12.4">0 - 300</text>
<rect x="620.6" y="98.2" width="33.8" height="17.2" fill="#d1c68c" stroke="#6f6e66" stroke-width="1.5"/>
<text x="660.8" y="112.2" font-size="12.4">300 - 600</text>
<rect x="620.6" y="121.2" width="33.8" height="17.2" fill="#b9a876" stroke="#6f6e66" stroke-width="1.5"/>
<text x="660.8" y="135.2" font-size="12.4">600 - 900</text>
<rect x="620.6" y="144.2" width="33.8" height="17.2" fill="#a08a60" stroke="#6f6e66" stroke-width="1.5"/>
<text x="660.8" y="158.2" font-size="12.4">900 - 1200</text>
<rect x="620.6" y="167.2" width="33.8" height="17.2" fill="#86694a" stroke="#6f6e66" stroke-width="1.5"/>
<text x="660.8" y="181.2" font-size="12.4">1200 - 1500</text>
<rect x="620.6" y="190.2" width="33.8" height="17.2" fill="#6d4b30" stroke="#6f6e66" stroke-width="1.5"/>
<text x="660.8" y="204.2" font-size="12.4">&gt; 1500</text>
</g>
<g id="dl">
<text x="665.8" y="410.9" font-size="16.4" font-weight="bold" textLength="106.2" lengthAdjust="spacingAndGlyphs">mm/10 years</text>
<circle cx="685.5" cy="431.8" r="6.15" fill="#000000" stroke="#222" stroke-width="0.6"/>
<circle cx="685.5" cy="459.6" r="6.15" fill="#828282" stroke="#222" stroke-width="0.6"/>
<circle cx="685.5" cy="487.4" r="6.15" fill="#e1e1e1" stroke="#222" stroke-width="0.6"/>
<circle cx="685.5" cy="515.2" r="6.15" fill="#73b2ff" stroke="#222" stroke-width="0.6"/>
<circle cx="685.5" cy="543.0" r="6.15" fill="#0070ff" stroke="#222" stroke-width="0.6"/>
<circle cx="685.5" cy="570.8" r="6.15" fill="#002673" stroke="#222" stroke-width="0.6"/>
</g>
</defs>
<rect width="1594" height="1172" fill="#fff"/>
<g transform="translate(0 0)"><g clip-path="url(#pc)">
<use href="#isl"/><use href="#pngb"/><use href="#aus"/>
<g stroke="#101820" stroke-width="0.5">
<circle cx="583.4" cy="207.3" r="6.05" fill="#000000"/>
<circle cx="665.1" cy="295.6" r="6.05" fill="#000000"/>
<circle cx="668.2" cy="310.9" r="6.05" fill="#000000"/>
<circle cx="625.3" cy="256.2" r="6.05" fill="#828282"/>
<circle cx="634.4" cy="286.9" r="6.05" fill="#828282"/>
<circle cx="642.6" cy="284.3" r="6.05" fill="#828282"/>
<circle cx="657.4" cy="290" r="6.05" fill="#828282"/>
<circle cx="659" cy="297.1" r="6.05" fill="#828282"/>
<circle cx="653.8" cy="312.5" r="6.05" fill="#828282"/>
<circle cx="558.2" cy="519.4" r="6.05" fill="#828282"/>
<circle cx="638" cy="291" r="6.05" fill="#e1e1e1"/>
<circle cx="640" cy="308.9" r="6.05" fill="#e1e1e1"/>
<circle cx="642.1" cy="315.5" r="6.05" fill="#e1e1e1"/>
<circle cx="652.8" cy="318.1" r="6.05" fill="#e1e1e1"/>
<circle cx="165.1" cy="421.1" r="6.05" fill="#e1e1e1"/>
<circle cx="461" cy="422.8" r="6.05" fill="#e1e1e1"/>
<circle cx="473" cy="425.2" r="6.05" fill="#e1e1e1"/>
<circle cx="478.3" cy="447.3" r="6.05" fill="#e1e1e1"/>
<circle cx="552.8" cy="463.4" r="6.05" fill="#e1e1e1"/>
<circle cx="609.2" cy="448.5" r="6.05" fill="#e1e1e1"/>
<circle cx="559.8" cy="506.9" r="6.05" fill="#e1e1e1"/>
<circle cx="585.4" cy="522.4" r="6.05" fill="#e1e1e1"/>
<circle cx="576.3" cy="528.5" r="6.05" fill="#e1e1e1"/>
<circle cx="182" cy="223.5" r="6.05" fill="#73b2ff"/>
<circle cx="200.6" cy="243.2" r="6.05" fill="#73b2ff"/>
<circle cx="424.3" cy="194.2" r="6.05" fill="#73b2ff"/>
<circle cx="454.5" cy="211.9" r="6.05" fill="#73b2ff"/>
<circle cx="561.4" cy="276.5" r="6.05" fill="#73b2ff"/>
<circle cx="645.7" cy="344.7" r="6.05" fill="#73b2ff"/>
<circle cx="638.5" cy="348.3" r="6.05" fill="#73b2ff"/>
<circle cx="623.3" cy="366.2" r="6.05" fill="#73b2ff"/>
<circle cx="609.6" cy="370.3" r="6.05" fill="#73b2ff"/>
<circle cx="631.5" cy="374.6" r="6.05" fill="#73b2ff"/>
<circle cx="152.4" cy="315.4" r="6.05" fill="#73b2ff"/>
<circle cx="169.1" cy="314" r="6.05" fill="#73b2ff"/>
<circle cx="184.2" cy="312.8" r="6.05" fill="#73b2ff"/>
<circle cx="187.7" cy="307.9" r="6.05" fill="#73b2ff"/>
<circle cx="139.3" cy="331.5" r="6.05" fill="#73b2ff"/>
<circle cx="163.9" cy="344.2" r="6.05" fill="#73b2ff"/>
<circle cx="146.4" cy="350.6" r="6.05" fill="#73b2ff"/>
<circle cx="156" cy="364.3" r="6.05" fill="#73b2ff"/>
<circle cx="153.4" cy="370.4" r="6.05" fill="#73b2ff"/>
<circle cx="149.4" cy="379.2" r="6.05" fill="#73b2ff"/>
<circle cx="178" cy="372.8" r="6.05" fill="#73b2ff"/>
<circle cx="188.9" cy="366.1" r="6.05" fill="#73b2ff"/>
<circle cx="218.3" cy="365.5" r="6.05" fill="#73b2ff"/>
<circle cx="226.9" cy="362.3" r="6.05" fill="#73b2ff"/>
<circle cx="234.6" cy="349.6" r="6.05" fill="#73b2ff"/>
<circle cx="326" cy="375.6" r="6.05" fill="#73b2ff"/>
<circle cx="164.9" cy="397.9" r="6.05" fill="#73b2ff"/>
<circle cx="151" cy="407.6" r="6.05" fill="#73b2ff"/>
<circle cx="180.6" cy="407.4" r="6.05" fill="#73b2ff"/>
<circle cx="202.4" cy="402" r="6.05" fill="#73b2ff"/>
<circle cx="420.3" cy="354.7" r="6.05" fill="#73b2ff"/>
<circle cx="480.3" cy="386.1" r="6.05" fill="#73b2ff"/>
<circle cx="415.6" cy="409.7" r="6.05" fill="#73b2ff"/>
<circle cx="527.6" cy="435.9" r="6.05" fill="#73b2ff"/>
<circle cx="573.3" cy="437.3" r="6.05" fill="#73b2ff"/>
<circle cx="557.2" cy="445.9" r="6.05" fill="#73b2ff"/>
<circle cx="561.2" cy="447.9" r="6.05" fill="#73b2ff"/>
<circle cx="565.3" cy="450.6" r="6.05" fill="#73b2ff"/>
<circle cx="621.2" cy="400.6" r="6.05" fill="#73b2ff"/>
<circle cx="326.7" cy="163.1" r="6.05" fill="#0070ff"/>
<circle cx="332.8" cy="166.1" r="6.05" fill="#0070ff"/>
<circle cx="278.9" cy="189.3" r="6.05" fill="#0070ff"/>
<circle cx="226.6" cy="194.3" r="6.05" fill="#0070ff"/>
<circle cx="195.8" cy="214.5" r="6.05" fill="#0070ff"/>
<circle cx="204.4" cy="222" r="6.05" fill="#0070ff"/>
<circle cx="212" cy="224.8" r="6.05" fill="#0070ff"/>
<circle cx="171.9" cy="237.4" r="6.05" fill="#0070ff"/>
<circle cx="517.9" cy="107.8" r="6.05" fill="#0070ff"/>
<circle cx="481.1" cy="203.8" r="6.05" fill="#0070ff"/>
<circle cx="487.9" cy="223" r="6.05" fill="#0070ff"/>
<circle cx="437.4" cy="403.2" r="6.05" fill="#0070ff"/>
<circle cx="355.4" cy="163.1" r="6.05" fill="#002673"/>
<circle cx="281.4" cy="187.5" r="6.05" fill="#002673"/>
<circle cx="506.5" cy="110.2" r="6.05" fill="#002673"/>
</g>
<circle cx="353" cy="107.7" r="4.3" fill="#ffff00" stroke="#000" stroke-width="1.55"/><circle cx="144" cy="379.5" r="4.3" fill="#ffff00" stroke="#000" stroke-width="1.55"/><circle cx="661.8" cy="316.5" r="4.3" fill="#ffff00" stroke="#000" stroke-width="1.55"/><circle cx="636.3" cy="405.8" r="4.3" fill="#ffff00" stroke="#000" stroke-width="1.55"/><circle cx="607.1" cy="425.8" r="4.3" fill="#ffff00" stroke="#000" stroke-width="1.55"/><circle cx="549.6" cy="460.8" r="4.3" fill="#ffff00" stroke="#000" stroke-width="1.55"/><circle cx="582.5" cy="531.3" r="4.3" fill="#ffff00" stroke="#000" stroke-width="1.55"/>
<use href="#cmp"/><use href="#sb"/><use href="#lg"/><use href="#dl"/>
<text x="713.6" y="436.9" font-size="14.7">&lt; <tspan font-weight="bold">−</tspan>20</text>
<text x="713.6" y="464.7" font-size="14.7">−20 <tspan font-weight="bold">–</tspan> −10</text>
<text x="713.6" y="492.5" font-size="14.7">−10 – 0</text>
<text x="713.6" y="520.3" font-size="14.7">0 – 10</text>
<text x="713.6" y="548.1" font-size="14.7">10 – 20</text>
<text x="713.6" y="575.9" font-size="14.7">&gt; 20</text>
<text x="27.2" y="191.8" font-size="17" font-weight="bold">(a)</text>
</g></g>
<g transform="translate(792 0)"><g clip-path="url(#pc)">
<use href="#isl"/><use href="#pngb"/><use href="#aus"/>
<g stroke="#101820" stroke-width="0.5">
<circle cx="633.3" cy="265.9" r="6.05" fill="#828282"/>
<circle cx="663.9" cy="295.5" r="6.05" fill="#828282"/>
<circle cx="641.8" cy="315.3" r="6.05" fill="#828282"/>
<circle cx="639.7" cy="394.8" r="6.05" fill="#828282"/>
<circle cx="584.9" cy="522.9" r="6.05" fill="#e1e1e1"/>
<circle cx="226.4" cy="194.5" r="6.05" fill="#73b2ff"/>
<circle cx="424" cy="193.8" r="6.05" fill="#73b2ff"/>
<circle cx="444.7" cy="213.3" r="6.05" fill="#73b2ff"/>
<circle cx="478.9" cy="253.5" r="6.05" fill="#73b2ff"/>
<circle cx="217.6" cy="365.1" r="6.05" fill="#73b2ff"/>
<circle cx="226.4" cy="362.4" r="6.05" fill="#73b2ff"/>
<circle cx="325.8" cy="375.7" r="6.05" fill="#73b2ff"/>
<circle cx="461.7" cy="367" r="6.05" fill="#73b2ff"/>
<circle cx="604.5" cy="357.2" r="6.05" fill="#73b2ff"/>
<circle cx="623.5" cy="364.5" r="6.05" fill="#73b2ff"/>
<circle cx="462.1" cy="367.3" r="6.05" fill="#73b2ff"/>
<circle cx="457.5" cy="379.3" r="6.05" fill="#73b2ff"/>
<circle cx="453.4" cy="384.8" r="6.05" fill="#73b2ff"/>
<circle cx="471.6" cy="380.7" r="6.05" fill="#73b2ff"/>
<circle cx="457.5" cy="392.4" r="6.05" fill="#73b2ff"/>
<circle cx="458.9" cy="396.5" r="6.05" fill="#73b2ff"/>
<circle cx="455.5" cy="401.5" r="6.05" fill="#73b2ff"/>
<circle cx="471.2" cy="409.5" r="6.05" fill="#73b2ff"/>
<circle cx="409.1" cy="403.5" r="6.05" fill="#73b2ff"/>
<circle cx="415.2" cy="409.5" r="6.05" fill="#73b2ff"/>
<circle cx="607.5" cy="377.9" r="6.05" fill="#73b2ff"/>
<circle cx="612.5" cy="382" r="6.05" fill="#73b2ff"/>
<circle cx="605.5" cy="387.4" r="6.05" fill="#73b2ff"/>
<circle cx="614.5" cy="384.4" r="6.05" fill="#73b2ff"/>
<circle cx="526.9" cy="435.7" r="6.05" fill="#73b2ff"/>
<circle cx="534" cy="433.7" r="6.05" fill="#73b2ff"/>
<circle cx="538" cy="435.7" r="6.05" fill="#73b2ff"/>
<circle cx="534" cy="443.8" r="6.05" fill="#73b2ff"/>
<circle cx="546.1" cy="442.8" r="6.05" fill="#73b2ff"/>
<circle cx="543.1" cy="449.8" r="6.05" fill="#73b2ff"/>
<circle cx="559.2" cy="447.2" r="6.05" fill="#73b2ff"/>
<circle cx="573.3" cy="437.1" r="6.05" fill="#73b2ff"/>
<circle cx="551.5" cy="463.9" r="6.05" fill="#73b2ff"/>
<circle cx="261.1" cy="186.9" r="6.05" fill="#0070ff"/>
<circle cx="278.7" cy="188.7" r="6.05" fill="#0070ff"/>
<circle cx="417.8" cy="184.6" r="6.05" fill="#0070ff"/>
<circle cx="454.3" cy="212" r="6.05" fill="#0070ff"/>
<circle cx="437.3" cy="403.5" r="6.05" fill="#0070ff"/>
<circle cx="623.2" cy="356" r="6.05" fill="#0070ff"/>
<circle cx="640" cy="362" r="6.05" fill="#0070ff"/>
<circle cx="631.7" cy="374.7" r="6.05" fill="#0070ff"/>
<circle cx="619.6" cy="379.9" r="6.05" fill="#0070ff"/>
<circle cx="595" cy="426.1" r="6.05" fill="#0070ff"/>
<circle cx="281.8" cy="186.9" r="6.05" fill="#002673"/>
<circle cx="558.8" cy="168.7" r="6.05" fill="#002673"/>
</g>
<circle cx="353" cy="107.7" r="4.3" fill="#ffff00" stroke="#000" stroke-width="1.55"/><circle cx="144" cy="379.5" r="4.3" fill="#ffff00" stroke="#000" stroke-width="1.55"/><circle cx="661.8" cy="316.5" r="4.3" fill="#ffff00" stroke="#000" stroke-width="1.55"/><circle cx="636.3" cy="405.8" r="4.3" fill="#ffff00" stroke="#000" stroke-width="1.55"/><circle cx="607.1" cy="425.8" r="4.3" fill="#ffff00" stroke="#000" stroke-width="1.55"/><circle cx="549.6" cy="460.8" r="4.3" fill="#ffff00" stroke="#000" stroke-width="1.55"/><circle cx="582.5" cy="531.3" r="4.3" fill="#ffff00" stroke="#000" stroke-width="1.55"/>
<use href="#cmp"/><use href="#sb"/><use href="#lg"/><use href="#dl"/>
<text x="713.6" y="436.9" font-size="14.7">&lt; <tspan font-weight="bold">−</tspan>6.0</text>
<text x="713.6" y="464.7" font-size="14.7">−6.0 <tspan font-weight="bold">–</tspan> −3.0</text>
<text x="713.6" y="492.5" font-size="14.7">−3.0 – 0.0</text>
<text x="713.6" y="520.3" font-size="14.7">0.0 – 3.0</text>
<text x="713.6" y="548.1" font-size="14.7">3.0 – 6.0</text>
<text x="713.6" y="575.9" font-size="14.7">&gt; 6.0</text>
<text x="27.2" y="191.8" font-size="17" font-weight="bold">(b)</text>
</g></g>
<g transform="translate(0 581)"><g clip-path="url(#pc)">
<use href="#isl"/><use href="#pngb"/><use href="#aus"/>
<circle cx="353" cy="107.7" r="4.3" fill="#ffff00" stroke="#000" stroke-width="1.55"/><circle cx="144" cy="379.5" r="4.3" fill="#ffff00" stroke="#000" stroke-width="1.55"/><circle cx="661.8" cy="316.5" r="4.3" fill="#ffff00" stroke="#000" stroke-width="1.55"/><circle cx="636.3" cy="405.8" r="4.3" fill="#ffff00" stroke="#000" stroke-width="1.55"/><circle cx="607.1" cy="425.8" r="4.3" fill="#ffff00" stroke="#000" stroke-width="1.55"/><circle cx="549.6" cy="460.8" r="4.3" fill="#ffff00" stroke="#000" stroke-width="1.55"/><circle cx="582.5" cy="531.3" r="4.3" fill="#ffff00" stroke="#000" stroke-width="1.55"/>
<g stroke="#101820" stroke-width="0.5">
<circle cx="634.9" cy="287" r="6.05" fill="#000000"/>
<circle cx="642.6" cy="284.2" r="6.05" fill="#000000"/>
<circle cx="657.9" cy="296.3" r="6.05" fill="#000000"/>
<circle cx="664.9" cy="294.3" r="6.05" fill="#000000"/>
<circle cx="647.1" cy="307.4" r="6.05" fill="#000000"/>
<circle cx="641.4" cy="315.2" r="6.05" fill="#000000"/>
<circle cx="668" cy="310" r="6.05" fill="#000000"/>
<circle cx="646.2" cy="336.8" r="6.05" fill="#000000"/>
<circle cx="625.3" cy="414.9" r="6.05" fill="#000000"/>
<circle cx="616.6" cy="431" r="6.05" fill="#000000"/>
<circle cx="622.7" cy="434.1" r="6.05" fill="#000000"/>
<circle cx="558.2" cy="519.1" r="6.05" fill="#000000"/>
<circle cx="551.2" cy="462.7" r="6.05" fill="#828282"/>
<circle cx="152.4" cy="315" r="6.05" fill="#73b2ff"/>
<circle cx="169.1" cy="313.4" r="6.05" fill="#73b2ff"/>
<circle cx="184.2" cy="312.4" r="6.05" fill="#73b2ff"/>
<circle cx="188.7" cy="365.3" r="6.05" fill="#73b2ff"/>
<circle cx="226.3" cy="362.3" r="6.05" fill="#73b2ff"/>
<circle cx="148" cy="378.6" r="6.05" fill="#73b2ff"/>
<circle cx="326" cy="375.2" r="6.05" fill="#73b2ff"/>
<circle cx="383" cy="378.8" r="6.05" fill="#73b2ff"/>
<circle cx="542.1" cy="337.8" r="6.05" fill="#73b2ff"/>
<circle cx="538.5" cy="347.9" r="6.05" fill="#73b2ff"/>
<circle cx="418.3" cy="385.1" r="6.05" fill="#73b2ff"/>
<circle cx="431.8" cy="386.7" r="6.05" fill="#73b2ff"/>
<circle cx="414.2" cy="408.9" r="6.05" fill="#73b2ff"/>
<circle cx="421.3" cy="408.9" r="6.05" fill="#73b2ff"/>
<circle cx="417.3" cy="413.5" r="6.05" fill="#73b2ff"/>
<circle cx="514.5" cy="385.1" r="6.05" fill="#73b2ff"/>
<circle cx="516.5" cy="398.8" r="6.05" fill="#73b2ff"/>
<circle cx="536.5" cy="403.8" r="6.05" fill="#73b2ff"/>
<circle cx="530.4" cy="416.3" r="6.05" fill="#73b2ff"/>
<circle cx="527.6" cy="425" r="6.05" fill="#73b2ff"/>
<circle cx="380" cy="267.7" r="6.05" fill="#0070ff"/>
<circle cx="187.8" cy="307" r="6.05" fill="#0070ff"/>
<circle cx="539.7" cy="304.5" r="6.05" fill="#0070ff"/>
<circle cx="540.9" cy="309.2" r="6.05" fill="#0070ff"/>
<circle cx="558.2" cy="445.8" r="6.05" fill="#0070ff"/>
<circle cx="540.4" cy="455.7" r="6.05" fill="#0070ff"/>
<circle cx="535.9" cy="466.5" r="6.05" fill="#0070ff"/>
<circle cx="327.6" cy="163.2" r="6.05" fill="#002673"/>
<circle cx="332.6" cy="165.6" r="6.05" fill="#002673"/>
<circle cx="355.4" cy="162.2" r="6.05" fill="#002673"/>
<circle cx="282.3" cy="186.7" r="6.05" fill="#002673"/>
<circle cx="226.5" cy="194.2" r="6.05" fill="#002673"/>
<circle cx="195.7" cy="213.9" r="6.05" fill="#002673"/>
<circle cx="182.2" cy="223.4" r="6.05" fill="#002673"/>
<circle cx="204.8" cy="222" r="6.05" fill="#002673"/>
<circle cx="211.8" cy="224.4" r="6.05" fill="#002673"/>
<circle cx="172" cy="237.5" r="6.05" fill="#002673"/>
<circle cx="200.8" cy="242.7" r="6.05" fill="#002673"/>
<circle cx="506.5" cy="109.6" r="6.05" fill="#002673"/>
<circle cx="517.5" cy="107.2" r="6.05" fill="#002673"/>
<circle cx="524.4" cy="222.6" r="6.05" fill="#002673"/>
<circle cx="542.3" cy="271.7" r="6.05" fill="#002673"/>
<circle cx="620" cy="337.8" r="6.05" fill="#002673"/>
<circle cx="638.8" cy="347.9" r="6.05" fill="#002673"/>
</g>
<use href="#cmp"/><use href="#sb"/><use href="#lg"/><use href="#dl"/>
<text x="713.6" y="436.9" font-size="14.7">&lt; −2.5</text>
<text x="713.6" y="464.7" font-size="14.7">−2.5 – −1.5</text>
<text x="713.6" y="492.5" font-size="14.7"><tspan font-weight="bold">−</tspan>1.5 – 0.0</text>
<text x="713.6" y="520.3" font-size="14.7">0.0 <tspan font-weight="bold">–</tspan> 1.5</text>
<text x="713.6" y="548.1" font-size="14.7">1.5 – 2.5</text>
<text x="713.6" y="575.9" font-size="14.7">&gt; 2.5</text>
<text x="27.2" y="191.8" font-size="17" font-weight="bold">(c)</text>
</g></g>
<g transform="translate(792 581)"><g clip-path="url(#pc)">
<use href="#isl"/><use href="#pngb"/><use href="#aus"/>
<g stroke="#101820" stroke-width="0.5">
<circle cx="564.7" cy="178.2" r="6.05" fill="#828282"/>
<circle cx="668.2" cy="309.8" r="6.05" fill="#e1e1e1"/>
<circle cx="493.6" cy="445.4" r="6.05" fill="#e1e1e1"/>
<circle cx="518.5" cy="470" r="6.05" fill="#e1e1e1"/>
<circle cx="552.3" cy="458.2" r="6.05" fill="#e1e1e1"/>
<circle cx="559.7" cy="506.6" r="6.05" fill="#e1e1e1"/>
<circle cx="596.7" cy="504.8" r="6.05" fill="#e1e1e1"/>
<circle cx="557.9" cy="519.1" r="6.05" fill="#e1e1e1"/>
<circle cx="575.5" cy="529" r="6.05" fill="#e1e1e1"/>
<circle cx="327.4" cy="163.1" r="6.05" fill="#73b2ff"/>
<circle cx="332.7" cy="165.9" r="6.05" fill="#73b2ff"/>
<circle cx="355.3" cy="162.5" r="6.05" fill="#73b2ff"/>
<circle cx="281.9" cy="186.3" r="6.05" fill="#73b2ff"/>
<circle cx="226.3" cy="194.2" r="6.05" fill="#73b2ff"/>
<circle cx="182.1" cy="223.3" r="6.05" fill="#73b2ff"/>
<circle cx="171.8" cy="237.5" r="6.05" fill="#73b2ff"/>
<circle cx="200.6" cy="243.1" r="6.05" fill="#73b2ff"/>
<circle cx="579.2" cy="302" r="6.05" fill="#73b2ff"/>
<circle cx="606.5" cy="312.3" r="6.05" fill="#73b2ff"/>
<circle cx="601.4" cy="342.5" r="6.05" fill="#73b2ff"/>
<circle cx="623.4" cy="356.2" r="6.05" fill="#73b2ff"/>
<circle cx="652.3" cy="377.6" r="6.05" fill="#73b2ff"/>
<circle cx="639.4" cy="388.1" r="6.05" fill="#73b2ff"/>
<circle cx="644.8" cy="392.4" r="6.05" fill="#73b2ff"/>
<circle cx="621.3" cy="400.4" r="6.05" fill="#73b2ff"/>
<circle cx="630.5" cy="404.6" r="6.05" fill="#73b2ff"/>
<circle cx="636" cy="407.5" r="6.05" fill="#73b2ff"/>
<circle cx="626.1" cy="413.1" r="6.05" fill="#73b2ff"/>
<circle cx="573.3" cy="436.8" r="6.05" fill="#73b2ff"/>
<circle cx="187.4" cy="306.7" r="6.05" fill="#73b2ff"/>
<circle cx="151.8" cy="315.2" r="6.05" fill="#73b2ff"/>
<circle cx="163.7" cy="343.7" r="6.05" fill="#73b2ff"/>
<circle cx="146.2" cy="350.3" r="6.05" fill="#73b2ff"/>
<circle cx="234.6" cy="349.3" r="6.05" fill="#73b2ff"/>
<circle cx="225.9" cy="362.4" r="6.05" fill="#73b2ff"/>
<circle cx="188.4" cy="365.4" r="6.05" fill="#73b2ff"/>
<circle cx="166.7" cy="374.8" r="6.05" fill="#73b2ff"/>
<circle cx="149.2" cy="378.4" r="6.05" fill="#73b2ff"/>
<circle cx="202.2" cy="401.5" r="6.05" fill="#73b2ff"/>
<circle cx="180.4" cy="407.1" r="6.05" fill="#73b2ff"/>
<circle cx="506.3" cy="110" r="6.05" fill="#0070ff"/>
</g>
<circle cx="353" cy="107.7" r="4.3" fill="#ffff00" stroke="#000" stroke-width="1.55"/><circle cx="144" cy="379.5" r="4.3" fill="#ffff00" stroke="#000" stroke-width="1.55"/><circle cx="661.8" cy="316.5" r="4.3" fill="#ffff00" stroke="#000" stroke-width="1.55"/><circle cx="636.3" cy="405.8" r="4.3" fill="#ffff00" stroke="#000" stroke-width="1.55"/><circle cx="607.1" cy="425.8" r="4.3" fill="#ffff00" stroke="#000" stroke-width="1.55"/><circle cx="549.6" cy="460.8" r="4.3" fill="#ffff00" stroke="#000" stroke-width="1.55"/><circle cx="582.5" cy="531.3" r="4.3" fill="#ffff00" stroke="#000" stroke-width="1.55"/>
<use href="#cmp"/><use href="#sb"/><use href="#lg"/><use href="#dl"/>
<text x="713.6" y="436.9" font-size="14.7">&lt; −20</text>
<text x="713.6" y="464.7" font-size="14.7">−20 – −10</text>
<text x="713.6" y="492.5" font-size="14.7"><tspan font-weight="bold">−</tspan>10 – 0</text>
<text x="713.6" y="520.3" font-size="14.7">0 <tspan font-weight="bold">–</tspan> 10</text>
<text x="713.6" y="548.1" font-size="14.7">10 – 20</text>
<text x="713.6" y="575.9" font-size="14.7">&gt; 20</text>
<text x="27.2" y="191.8" font-size="17" font-weight="bold">(d)</text>
</g></g>
<rect x="5.5" y="5.5" width="1584" height="1161" fill="none" stroke="#000" stroke-width="1.2"/>
<rect x="6" y="585" width="1583" height="2" fill="#b4b4b4"/>
<rect x="797" y="5" width="1.2" height="1162" fill="#000"/>
</svg></body></html>
